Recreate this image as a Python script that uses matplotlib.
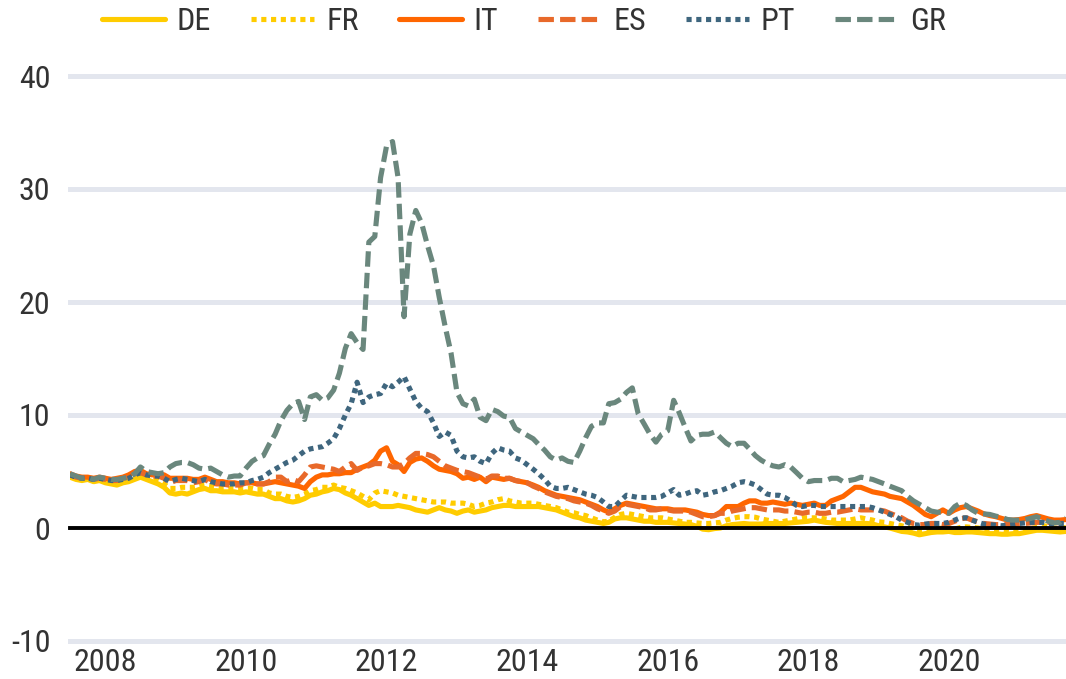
import matplotlib
matplotlib.use("Agg")
import matplotlib.pyplot as plt
from matplotlib import font_manager
import pandas as pd

# ---------------- data (monthly, Jul 2007 - Sep 2021) ----------------
start_month = "2007-07-01"
series_names = ["DE", "FR", "IT", "ES", "PT", "GR"]

DE = [4.5, 4.3, 4.2, 4.3, 4.1, 4.2,
      4.0, 3.9, 3.8, 4.0, 4.1, 4.3, 4.5, 4.3, 4.1, 3.9, 3.6, 3.1,
      3.0, 3.1, 3.0, 3.2, 3.4, 3.5, 3.3, 3.3, 3.2, 3.2, 3.2, 3.1,
      3.2, 3.1, 3.0, 3.0, 2.8, 2.6, 2.6, 2.4, 2.3, 2.4, 2.6, 2.9,
      3.0, 3.2, 3.3, 3.5, 3.4, 3.1, 2.9, 2.6, 2.3, 2.0, 2.2, 1.9,
      1.9, 1.9, 2.0, 1.9, 1.8, 1.6, 1.5, 1.4, 1.6, 1.8, 1.6, 1.5,
      1.3, 1.5, 1.6, 1.4, 1.5, 1.6, 1.8, 1.9, 2.0, 2.0, 1.9, 1.9,
      1.9, 1.9, 1.9, 1.8, 1.7, 1.6, 1.4, 1.2, 1.0, 0.9, 0.7, 0.6,
      0.5, 0.4, 0.5, 0.8, 0.9, 0.9, 0.8, 0.7, 0.6, 0.6, 0.5, 0.5,
      0.5, 0.45, 0.4, 0.35, 0.3, 0.15, -0.1, -0.15, -0.05, 0.0, 0.2, 0.3,
      0.35, 0.4, 0.35, 0.35, 0.35, 0.4, 0.4, 0.4, 0.4, 0.45, 0.5, 0.55,
      0.6, 0.7, 0.6, 0.5, 0.45, 0.4, 0.4, 0.4, 0.4, 0.4, 0.4, 0.35,
      0.2, 0.1, 0.0, -0.15, -0.3, -0.35, -0.45, -0.6, -0.5, -0.4, -0.35, -0.35,
      -0.3, -0.4, -0.4, -0.35, -0.35, -0.4, -0.45, -0.5, -0.5, -0.55, -0.55, -0.5,
      -0.5, -0.4, -0.3, -0.2, -0.2, -0.25, -0.3, -0.35, -0.3]

FR = [4.6, 4.4, 4.3, 4.4, 4.2, 4.3,
      4.1, 4.0, 3.9, 4.1, 4.3, 4.6, 4.7, 4.5, 4.3, 4.2, 3.9, 3.5,
      3.5, 3.6, 3.6, 3.6, 3.7, 3.8, 3.7, 3.6, 3.5, 3.5, 3.5, 3.5,
      3.5, 3.5, 3.4, 3.4, 3.1, 3.0, 3.0, 2.8, 2.7, 2.8, 3.0, 3.3,
      3.4, 3.6, 3.6, 3.8, 3.6, 3.5, 3.3, 3.1, 2.8, 2.5, 3.1, 3.3,
      3.2, 3.1, 2.9, 2.8, 2.7, 2.6, 2.5, 2.4, 2.3, 2.3, 2.3, 2.2,
      2.2, 2.2, 2.1, 1.9, 2.0, 2.2, 2.3, 2.5, 2.6, 2.4, 2.3, 2.2,
      2.2, 2.2, 2.1, 2.0, 1.9, 1.8, 1.6, 1.4, 1.35, 1.2, 1.1, 0.9,
      0.7, 0.55, 0.6, 0.95, 1.2, 1.3, 1.2, 1.1, 1.0, 0.9, 0.9, 0.9,
      0.8, 0.7, 0.6, 0.5, 0.5, 0.45, 0.4, 0.4, 0.45, 0.5, 0.7, 0.85,
      0.95, 1.0, 1.0, 0.95, 0.8, 0.7, 0.6, 0.5, 0.6, 0.7, 0.8, 0.9,
      0.9, 0.9, 0.9, 0.8, 0.7, 0.7, 0.7, 0.7, 0.8, 0.9, 0.8, 0.7,
      0.55, 0.5, 0.4, 0.3, 0.2, 0.05, -0.05, -0.3, -0.25, -0.1, -0.05, 0.0,
      0.0, -0.1, 0.05, 0.1, 0.05, 0.0, -0.1, -0.1, -0.15, -0.25, -0.3, -0.35,
      -0.3, -0.1, -0.05, 0.05, 0.2, 0.15, 0.0, -0.05, 0.05]

IT = [4.8, 4.6, 4.5, 4.5, 4.4, 4.5,
      4.4, 4.3, 4.4, 4.5, 4.7, 5.0, 5.1, 4.8, 4.7, 4.8, 4.7, 4.4,
      4.4, 4.4, 4.4, 4.3, 4.3, 4.5, 4.3, 4.1, 4.1, 4.0, 4.0, 3.9,
      4.0, 4.0, 3.9, 3.9, 4.0, 4.1, 4.0, 3.9, 3.8, 3.7, 3.5, 4.1,
      4.5, 4.7, 4.7, 4.8, 4.8, 4.9, 4.9, 5.2, 5.4, 5.6, 6.0, 6.8,
      7.1, 5.9, 5.6, 5.0, 5.8, 6.1, 6.2, 5.9, 5.5, 5.2, 5.1, 5.0,
      4.8, 4.4, 4.5, 4.3, 4.5, 4.1, 4.5, 4.4, 4.3, 4.4, 4.2, 4.1,
      4.0, 3.8, 3.6, 3.3, 3.1, 2.9, 2.8, 2.7, 2.6, 2.5, 2.3, 2.1,
      1.9, 1.6, 1.4, 1.7, 2.0, 2.2, 2.1, 2.0, 1.9, 1.8, 1.7, 1.7,
      1.7, 1.6, 1.6, 1.6, 1.5, 1.4, 1.2, 1.1, 1.1, 1.4, 1.9, 1.9,
      1.9, 2.2, 2.4, 2.4, 2.2, 2.2, 2.3, 2.2, 2.1, 2.2, 2.1, 2.0,
      2.1, 2.2, 2.0, 2.0, 2.4, 2.6, 2.8, 3.2, 3.6, 3.6, 3.4, 3.2,
      3.1, 3.0, 2.8, 2.7, 2.6, 2.3, 2.0, 1.6, 1.2, 1.0, 1.3, 1.6,
      1.3, 1.6, 1.8, 1.9, 1.7, 1.5, 1.25, 1.1, 1.0, 0.85, 0.7, 0.7,
      0.75, 0.85, 1.0, 1.1, 0.95, 0.8, 0.7, 0.7, 0.75]

ES = [4.7, 4.5, 4.4, 4.4, 4.3, 4.4,
      4.3, 4.2, 4.2, 4.4, 4.5, 4.8, 4.9, 4.7, 4.6, 4.6, 4.4, 4.0,
      4.2, 4.2, 4.2, 4.0, 4.1, 4.3, 4.0, 3.9, 3.9, 3.8, 3.8, 3.8,
      4.0, 4.0, 3.9, 3.9, 4.1, 4.5, 4.5, 4.1, 4.3, 4.1, 4.7, 5.4,
      5.5, 5.4, 5.3, 5.2, 5.0, 5.4, 5.7, 5.1, 5.4, 5.5, 5.7, 5.7,
      5.6, 5.4, 5.4, 5.7, 6.2, 6.6, 6.6, 6.5, 6.3, 5.9, 5.5, 5.3,
      5.1, 5.0, 4.9, 4.7, 4.5, 4.3, 4.6, 4.6, 4.4, 4.4, 4.2, 4.1,
      4.0, 3.7, 3.5, 3.2, 3.0, 2.8, 2.7, 2.6, 2.4, 2.3, 2.2, 2.0,
      1.7, 1.5, 1.3, 1.5, 1.9, 2.1, 2.0, 1.9, 1.8, 1.6, 1.6, 1.7,
      1.6, 1.5, 1.5, 1.5, 1.4, 1.2, 1.0, 1.0, 1.1, 1.3, 1.3, 1.5,
      1.6, 1.7, 1.8, 1.8, 1.7, 1.6, 1.6, 1.6, 1.5, 1.5, 1.4, 1.3,
      1.4, 1.4, 1.3, 1.3, 1.4, 1.4, 1.5, 1.6, 1.7, 1.6, 1.6, 1.6,
      1.6, 1.5, 1.3, 1.1, 0.9, 0.6, 0.4, 0.3, 0.3, 0.4, 0.4, 0.3,
      0.4, 0.6, 0.8, 0.9, 0.7, 0.55, 0.4, 0.35, 0.3, 0.3, 0.3, 0.3,
      0.35, 0.4, 0.45, 0.5, 0.5, 0.5, 0.5, 0.45, 0.4]

PT = [4.7, 4.5, 4.4, 4.4, 4.3, 4.4,
      4.3, 4.2, 4.2, 4.3, 4.4, 4.7, 4.9, 4.7, 4.6, 4.6, 4.4, 4.1,
      4.3, 4.4, 4.3, 4.2, 4.1, 4.3, 4.1, 4.0, 3.9, 3.9, 3.9, 4.0,
      4.0, 4.2, 4.3, 4.5, 4.9, 5.2, 5.5, 5.8, 6.0, 6.4, 6.8, 7.0,
      7.1, 7.2, 7.5, 7.9, 8.8, 10.0, 11.0, 12.9, 11.1, 11.6, 11.8, 11.9,
      12.8, 12.5, 12.9, 13.4, 12.3, 11.2, 10.6, 10.3, 9.3, 8.1, 8.5, 8.2,
      6.8, 6.3, 6.2, 6.3, 5.9, 5.7, 6.6, 7.1, 6.9, 6.8, 6.2, 6.0,
      5.6, 5.2, 4.8, 4.3, 3.7, 3.5, 3.5, 3.6, 3.4, 3.2, 3.0, 2.9,
      2.7, 2.3, 1.9, 1.9, 2.4, 2.9, 2.8, 2.7, 2.7, 2.7, 2.7, 2.8,
      3.1, 3.4, 2.9, 3.0, 3.2, 3.3, 2.9, 3.0, 3.2, 3.3, 3.5, 3.7,
      4.0, 4.1, 4.0, 3.8, 3.4, 3.0, 2.9, 2.9, 2.7, 2.4, 2.0, 1.9,
      2.0, 2.0, 1.9, 1.9, 1.9, 1.9, 1.9, 1.9, 1.9, 1.9, 1.9, 1.8,
      1.6, 1.4, 1.2, 1.0, 0.7, 0.5, 0.3, 0.25, 0.35, 0.4, 0.4, 0.4,
      0.5, 0.7, 0.9, 0.9, 0.7, 0.5, 0.35, 0.3, 0.25, 0.2, 0.25, 0.3,
      0.4, 0.45, 0.5, 0.5, 0.5, 0.4, 0.4, 0.4, 0.4]

GR = [4.8, 4.6, 4.4, 4.5, 4.3, 4.5,
      4.4, 4.3, 4.3, 4.4, 4.5, 4.8, 5.4, 5.0, 4.9, 4.8, 4.9, 5.4,
      5.7, 5.8, 5.8, 5.6, 5.3, 5.2, 5.3, 5.0, 4.7, 4.5, 4.6, 4.6,
      5.3, 5.9, 6.2, 6.4, 7.4, 8.3, 9.5, 10.4, 11.0, 11.2, 9.6, 11.6,
      11.8, 11.3, 11.5, 12.2, 13.7, 15.9, 17.2, 16.4, 15.8, 25.3, 25.8, 31.0,
      33.8, 34.2, 31.0, 18.7, 26.0, 28.1, 27.0, 25.0, 23.2, 20.4, 17.8, 15.5,
      12.0, 11.0, 10.8, 11.4, 9.8, 9.5, 10.5, 10.3, 9.9, 9.8, 8.8, 8.5,
      8.2, 7.9, 7.4, 6.9, 6.3, 6.0, 6.2, 5.9, 5.8, 6.8, 8.0, 9.0,
      9.3, 9.3, 11.0, 11.1, 11.4, 12.0, 12.4, 10.1, 9.2, 8.3, 7.6, 8.3,
      8.6, 11.3, 10.2, 8.9, 7.7, 8.2, 8.3, 8.3, 8.5, 8.0, 7.5, 7.2,
      7.5, 7.5, 7.0, 6.4, 6.0, 5.7, 5.5, 5.4, 5.6, 5.4, 4.9, 4.4,
      4.1, 4.2, 4.2, 4.2, 4.4, 4.4, 4.1, 4.2, 4.3, 4.5, 4.4, 4.3,
      4.1, 3.9, 3.7, 3.5, 3.3, 2.8, 2.4, 2.1, 1.8, 1.5, 1.4, 1.4,
      1.3, 1.9, 2.2, 2.0, 1.6, 1.3, 1.25, 1.2, 1.05, 0.95, 0.75, 0.7,
      0.7, 0.75, 0.85, 1.0, 0.8, 0.6, 0.45, 0.5, 0.9]

y_ticks = [-10, 0, 10, 20, 30, 40]
x_tick_years = [2008, 2010, 2012, 2014, 2016, 2018, 2020]

# ---------------- fonts: prefer a narrow sans (Arial Narrow look) ----------------
for path in font_manager.findSystemFonts():
    low = path.lower()
    if "narrow" in low or "condensed" in low:
        try:
            font_manager.fontManager.addfont(path)
        except Exception:
            pass
available = {f.name for f in font_manager.fontManager.ttflist}
family = []
for cand in ["Liberation Sans Narrow", "Arial Narrow", "DejaVu Sans Condensed",
             "Roboto Condensed", "Liberation Sans", "DejaVu Sans"]:
    if cand in available:
        family.append(cand)
plt.rcParams["font.family"] = family + ["DejaVu Sans"]
narrow_ok = bool(family) and family[0] in ("Liberation Sans Narrow", "Arial Narrow")

# ---------------- style ----------------
colors = {"DE": "#FFCC00", "FR": "#FFCC00", "IT": "#FF6600",
          "ES": "#E8692A", "PT": "#3F667E", "GR": "#6A877D"}
styles = {"DE": "-", "FR": (0, (1.0, 0.9)), "IT": "-",
          "ES": (0, (3.0, 1.2)), "PT": (0, (1.0, 0.9)), "GR": (0, (3.0, 1.2))}

text_color = "#333333"
fs = 26 if narrow_ok else 23

fig = plt.figure(figsize=(10.66, 6.79), dpi=100)
ax = fig.add_axes([70 / 1066, 1 - 641 / 679, 1 - 70 / 1066, (641 - 76) / 679])

data = {"DE": DE, "FR": FR, "IT": IT, "ES": ES, "PT": PT, "GR": GR}
handles = []
for name in series_names:
    vals = data[name]
    dates = pd.date_range(start_month, periods=len(vals), freq="MS")
    ln, = ax.plot(dates, vals, color=colors[name], linestyle=styles[name],
                  linewidth=3.7, dash_capstyle="butt", solid_capstyle="round",
                  solid_joinstyle="round", label=name, zorder=3)
    handles.append(ln)

for yt in y_ticks:
    if yt == 0:
        ax.axhline(yt, color="black", linewidth=2.8, zorder=4, clip_on=False)
    else:
        ax.axhline(yt, color="#E3E6EE", linewidth=3.6, zorder=1, clip_on=False)

all_dates = pd.date_range(start_month, periods=len(GR), freq="MS")
ax.set_xlim(all_dates[0], all_dates[-1])
ax.set_ylim(y_ticks[0], y_ticks[-1])
ax.set_yticks(y_ticks)
ax.set_yticklabels([str(v) for v in y_ticks])
ax.set_xticks([pd.Timestamp(f"{y}-01-01") for y in x_tick_years])
ax.set_xticklabels([str(y) for y in x_tick_years])
ax.tick_params(axis="both", length=0, labelsize=fs, labelcolor=text_color)
ax.tick_params(axis="y", pad=14)
ax.tick_params(axis="x", pad=5)
for sp in ax.spines.values():
    sp.set_visible(False)

px = fs * 100 / 72
leg = fig.legend(handles=handles, labels=series_names, loc="center",
                 bbox_to_anchor=(524 / 1066, 1 - 22 / 679), ncol=6,
                 frameon=False, fontsize=fs, handlelength=63 / px,
                 handletextpad=12 / px, columnspacing=40 / px)
for t in leg.get_texts():
    t.set_color(text_color)

fig.savefig("out.png", dpi=100)
